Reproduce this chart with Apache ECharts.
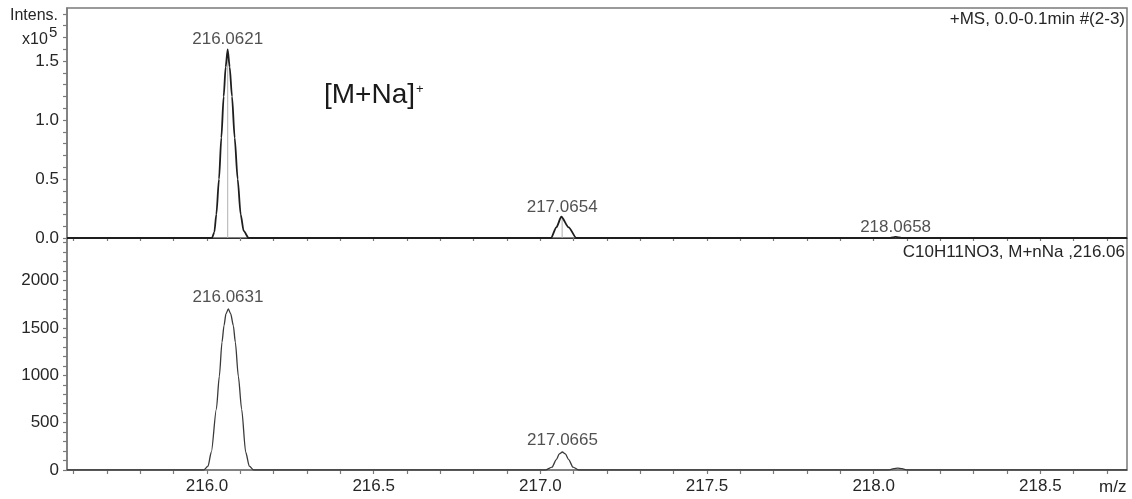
<!DOCTYPE html>
<html><head><meta charset="utf-8">
<script src="https://cdn.jsdelivr.net/npm/echarts@6/dist/echarts.min.js"></script>
<style>html,body{margin:0;padding:0;background:#fff}#c{width:1132px;height:499px}</style>
</head><body><div id="c"></div>
<script>
// ---- measured spectrum (top panel, intensity in counts) ----
const topMz  = [215.58, 216.015, 216.022, 216.028, 216.036, 216.043, 216.050, 216.056, 216.062, 216.068, 216.075, 216.083, 216.092, 216.101, 216.110, 216.125,
                217.032, 217.048, 217.063, 217.085, 217.108,
                218.048, 218.058, 218.066, 218.075, 218.085, 218.76];
const topInt = [0, 0, 5000, 20000, 50000, 85000, 120000, 145000, 160000, 145000, 120000, 85000, 50000, 20000, 6000, 0,
                0, 9000, 18000, 9000, 0,
                0, 600, 1000, 600, 0, 0];
// centroid sticks (top panel)
const topCentroidMz  = [216.0621, 217.0654, 218.0658];
const topCentroidInt = [156000, 17500, 900];
// peak annotations (top panel)
const topLabelMz  = [216.0621, 217.0654, 218.0658];
const topLabelInt = [160000, 18000, 1000];
const topLabelTxt = ['216.0621', '217.0654', '218.0658'];

// ---- simulated isotope pattern (bottom panel) ----
const botMz  = [215.58, 215.990, 216.003, 216.013, 216.028, 216.037, 216.045, 216.051, 216.057, 216.064, 216.071, 216.079, 216.085, 216.094, 216.104, 216.116, 216.127, 216.140,
                217.015, 217.035, 217.048, 217.057, 217.066, 217.075, 217.085, 217.098, 217.115,
                218.045, 218.060, 218.072, 218.085, 218.100, 218.76];
const botInt = [0, 0, 40, 190, 640, 990, 1350, 1525, 1650, 1700, 1650, 1525, 1350, 990, 640, 190, 40, 0,
                0, 30, 110, 170, 190, 170, 110, 30, 0,
                0, 15, 20, 15, 0, 0];
const botLabelMz  = [216.0631, 217.0665];
const botLabelInt = [1700, 190];
const botLabelTxt = ['216.0631', '217.0665'];

// ---- axes ----
const xTicks = [215.6, 215.7, 215.8, 215.9, 216.0, 216.1, 216.2, 216.3, 216.4, 216.5, 216.6, 216.7, 216.8, 216.9,
                217.0, 217.1, 217.2, 217.3, 217.4, 217.5, 217.6, 217.7, 217.8, 217.9,
                218.0, 218.1, 218.2, 218.3, 218.4, 218.5, 218.6, 218.7];
const xLabels = [216.0, 216.5, 217.0, 217.5, 218.0, 218.5];
const yTopTicks = [0, 10000, 20000, 30000, 40000, 50000, 60000, 70000, 80000, 90000, 100000, 110000, 120000, 130000,
                   140000, 150000, 160000, 170000, 180000, 190000];
const yTopLabels = [0, 50000, 100000, 150000];
const yBotTicks = [0, 100, 200, 300, 400, 500, 600, 700, 800, 900, 1000, 1100, 1200, 1300, 1400, 1500, 1600, 1700,
                   1800, 1900, 2000, 2100, 2200, 2300, 2400];
const yBotLabels = [0, 500, 1000, 1500, 2000];

const FONT = 'Liberation Sans, Arial, sans-serif';
const TXT = '#262626';
const AX = '#7a7a7a';
const FS = 17;

const chart = echarts.init(document.getElementById('c'), null, {renderer: 'canvas'});

function xAxisCfg(grid, labels) {
  return {
    type: 'value', gridIndex: grid, min: 215.58, max: 218.76,
    axisLine: {show: true, onZero: false, lineStyle: {color: grid === 0 ? '#333' : AX, width: grid === 0 ? 1 : 1.5}},
    axisTick: {show: true, customValues: xTicks, length: grid === 0 ? 3 : 4, lineStyle: {color: AX, width: 1.2}},
    axisLabel: labels ? {show: true, customValues: xLabels, margin: 8, color: TXT, fontSize: FS, fontFamily: FONT,
                         formatter: v => v.toFixed(1)} : {show: false},
    splitLine: {show: false}
  };
}
function yAxisCfg(grid, min, max, ticks, labels, fmt) {
  return {
    type: 'value', gridIndex: grid, min: min, max: max,
    axisLine: {show: true, lineStyle: {color: AX, width: 1.5}},
    axisTick: {show: true, customValues: ticks, length: 4, lineStyle: {color: AX, width: 1.2}},
    axisLabel: {show: true, customValues: labels, margin: 8, color: TXT, fontSize: FS, fontFamily: FONT, formatter: fmt},
    splitLine: {show: false}
  };
}

const series = [];
series.push({
  type: 'line', xAxisIndex: 0, yAxisIndex: 0, symbol: 'none', smooth: 0.25, smoothMonotone: 'x',
  lineStyle: {color: '#1e1e1e', width: 1.8}, data: topMz.map((m, i) => [m, topInt[i]]), z: 5
});
topCentroidMz.forEach((m, i) => {
  series.push({
    type: 'line', xAxisIndex: 0, yAxisIndex: 0, symbol: 'none',
    lineStyle: {color: '#b0b0b0', width: 1}, data: [[m, 0], [m, topCentroidInt[i]]], z: 4
  });
});
series.push({
  type: 'scatter', xAxisIndex: 0, yAxisIndex: 0, symbolSize: 0,
  data: topLabelMz.map((m, i) => [m, topLabelInt[i]]),
  label: {show: true, position: 'top', distance: 1, color: TXT, fontSize: FS, fontFamily: FONT,
          formatter: p => topLabelTxt[p.dataIndex]}
});
series.push({
  type: 'line', xAxisIndex: 1, yAxisIndex: 1, symbol: 'none', smooth: 0.25, smoothMonotone: 'x',
  lineStyle: {color: '#3a3a3a', width: 1.3}, data: botMz.map((m, i) => [m, botInt[i]]), z: 5
});
series.push({
  type: 'scatter', xAxisIndex: 1, yAxisIndex: 1, symbolSize: 0,
  data: botLabelMz.map((m, i) => [m, botLabelInt[i]]),
  label: {show: true, position: 'top', distance: 3, color: TXT, fontSize: FS, fontFamily: FONT,
          formatter: p => botLabelTxt[p.dataIndex]}
});

const option = {
  animation: false,
  backgroundColor: '#fff',
  grid: [
    {left: 67, right: 5, top: 8, height: 230, show: true, borderColor: AX, borderWidth: 1.5, backgroundColor: 'transparent'},
    {left: 67, right: 5, top: 238, height: 232, show: true, borderColor: AX, borderWidth: 1.5, backgroundColor: 'transparent'}
  ],
  xAxis: [xAxisCfg(0, false), xAxisCfg(1, true)],
  yAxis: [
    yAxisCfg(0, 0, 195000, yTopTicks, yTopLabels, v => (v / 1e5).toFixed(1)),
    yAxisCfg(1, 0, 2450, yBotTicks, yBotLabels, v => String(v))
  ],
  series: series,
  graphic: [
    {type: 'text', left: 10, top: 8, style: {text: 'Intens.', fill: TXT, font: '16px ' + FONT}},
    {type: 'text', left: 22, top: 32, style: {text: 'x10', fill: TXT, font: '16px ' + FONT}},
    {type: 'text', left: 49, top: 25, style: {text: '5', fill: TXT, font: '15px ' + FONT}},
    {type: 'text', right: 7, top: 11, style: {text: '+MS, 0.0-0.1min #(2-3)', fill: TXT, font: FS + 'px ' + FONT}},
    {type: 'text', right: 7, top: 244, style: {text: 'C10H11NO3, M+nNa ,216.06', fill: TXT, font: FS + 'px ' + FONT}},
    {type: 'text', left: 324, top: 81, style: {text: '[M+Na]', fill: '#1a1a1a', font: '28px ' + FONT}},
    {type: 'text', left: 416, top: 83, style: {text: '+', fill: '#1a1a1a', font: '13px ' + FONT}},
    {type: 'text', left: 1099, top: 479, style: {text: 'm/z', fill: TXT, font: FS + 'px ' + FONT}}
  ]
};
chart.setOption(option);
</script>
</body></html>
